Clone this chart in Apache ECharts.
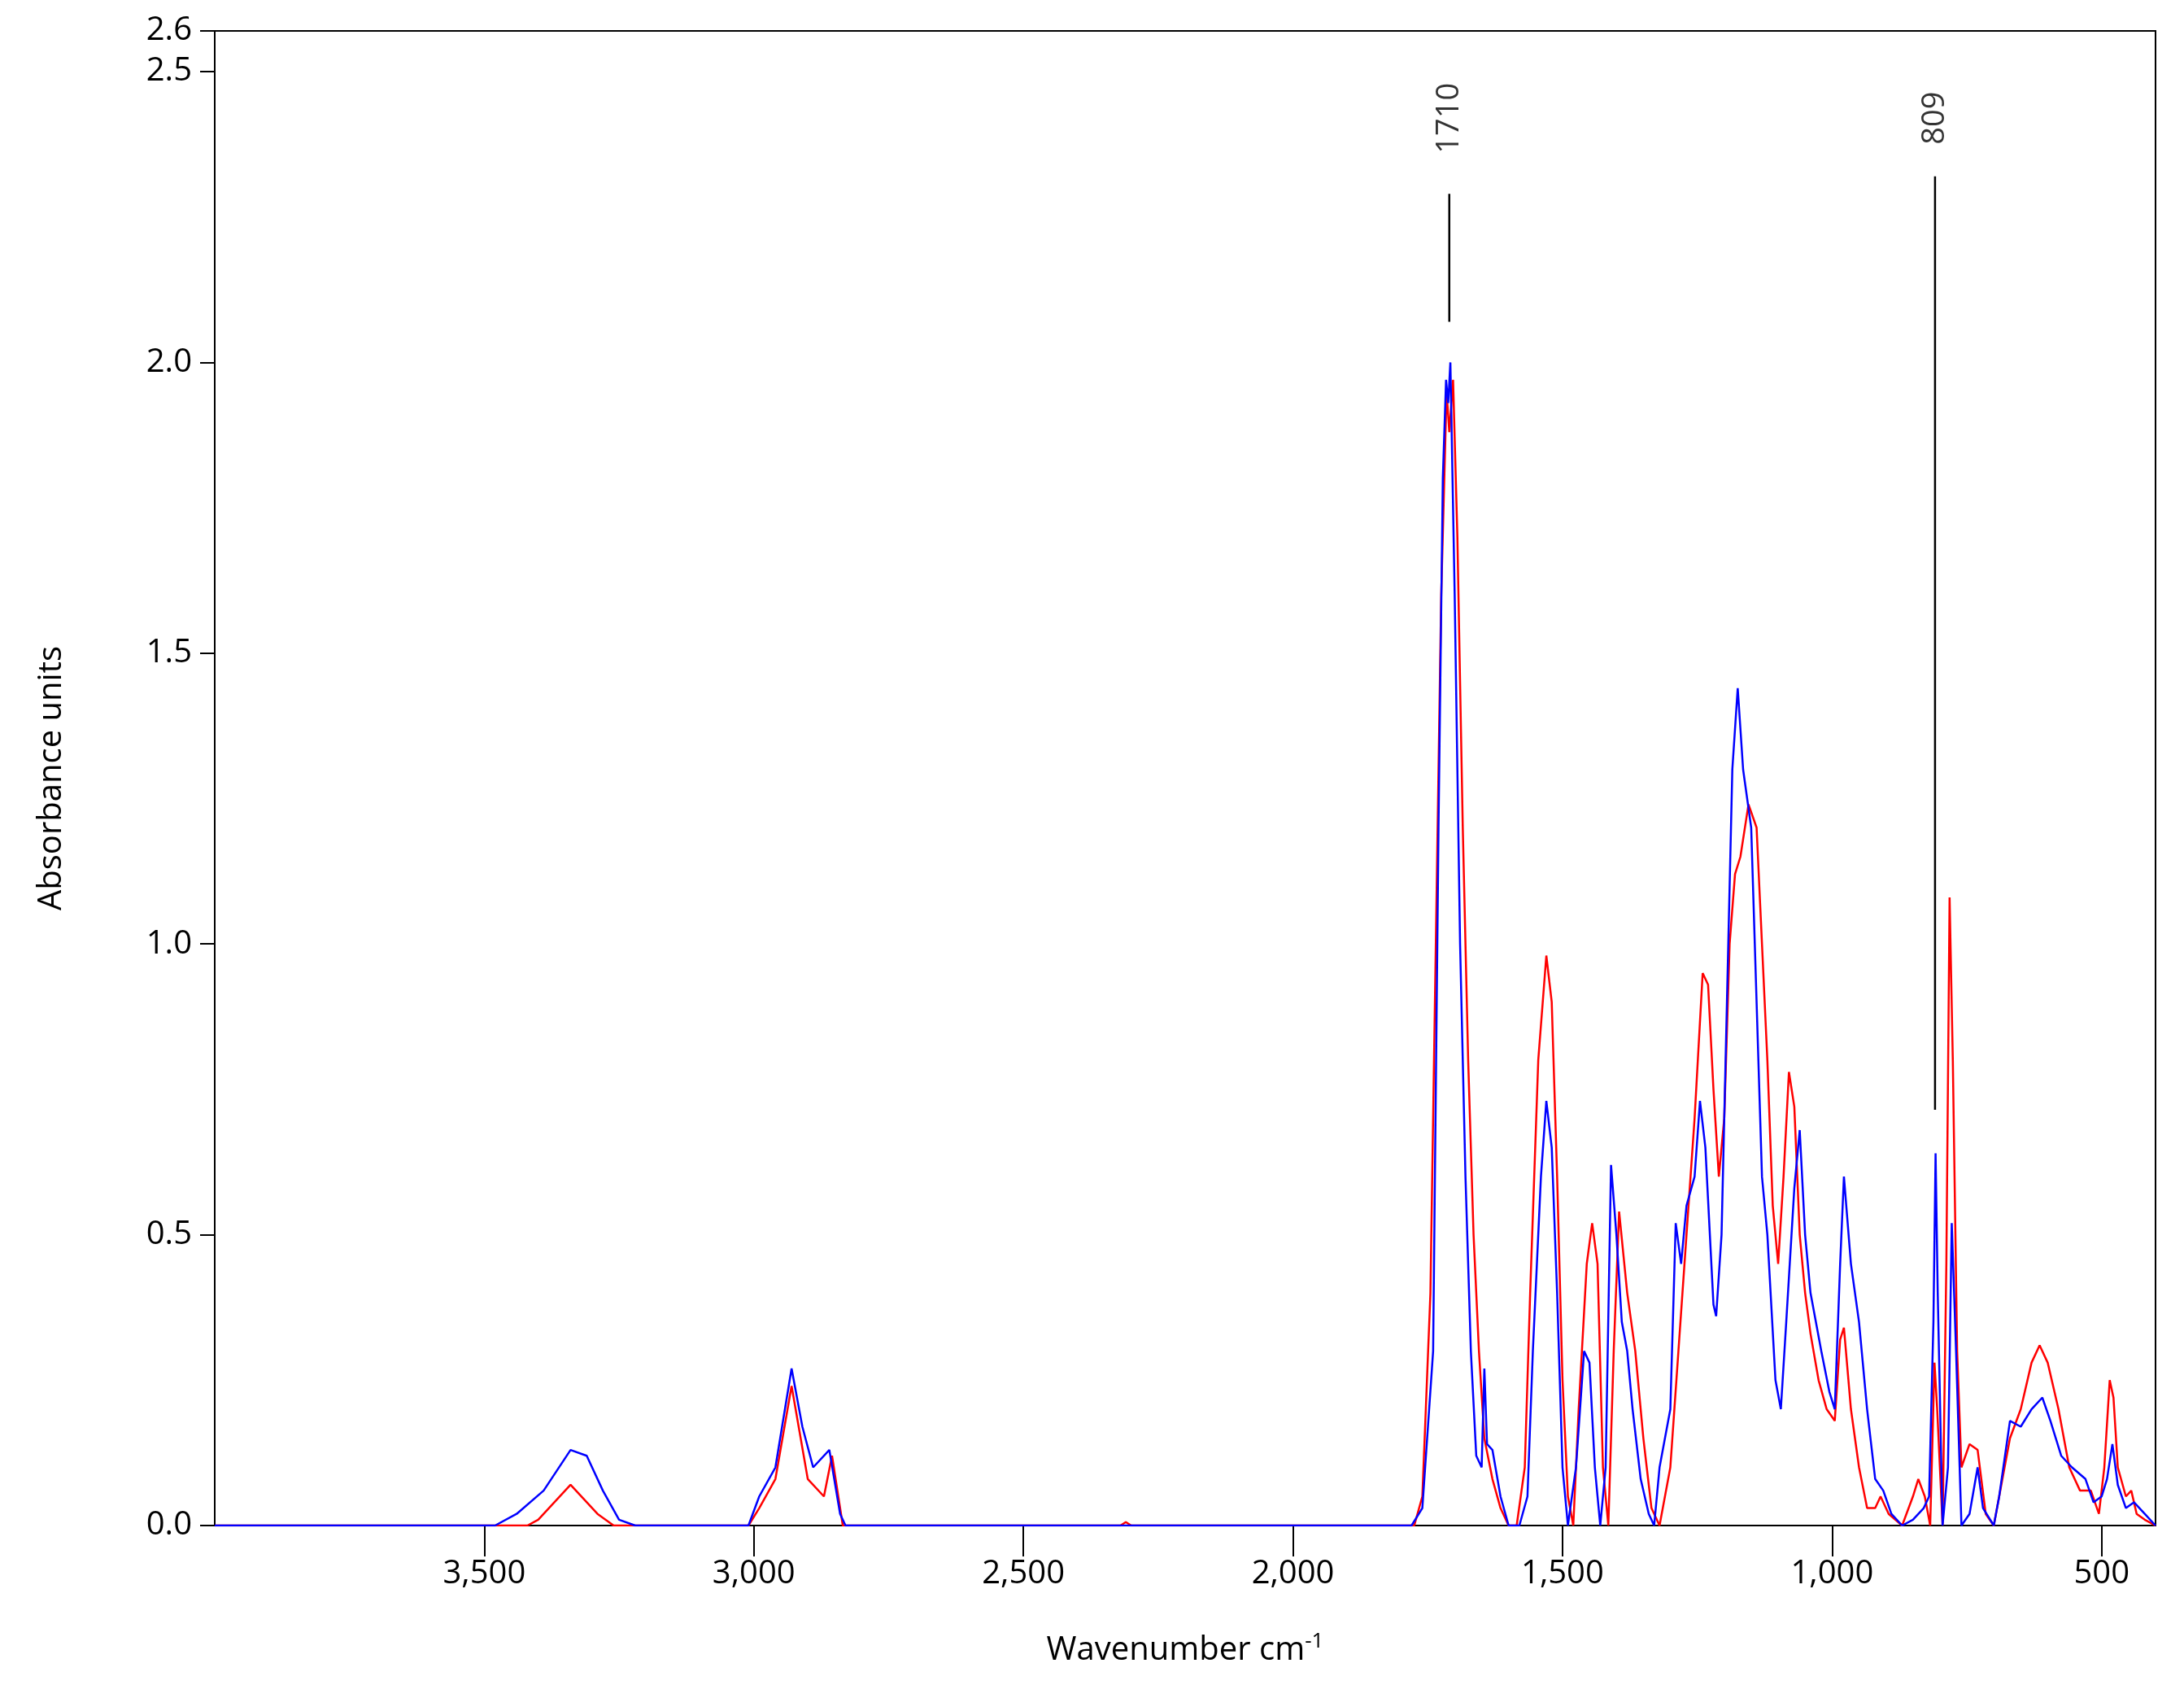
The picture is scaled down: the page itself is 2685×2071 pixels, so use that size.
<!DOCTYPE html>
<html>
<head>
<meta charset="utf-8">
<script src="https://cdn.jsdelivr.net/npm/echarts@6/dist/echarts.min.js"></script>
<style>html,body{margin:0;background:#fff}#chart{width:2685px;height:2071px}</style>
</head>
<body>
<div id="chart"></div>
<script>
// wavenumber / absorbance pairs
const blueWn = [4000,3480,3440,3390,3340,3310,3280,3250,3220,3010,2990,2960,2930,2910,2890,2860,2840,2830,1780,1760,1740,1730,1722,1716,1712,1708,1700,1690,1680,1670,1660,1650,1645,1640,1630,1615,1600,1580,1565,1555,1540,1530,1520,1510,1500,1490,1475,1460,1450,1440,1430,1420,1410,1400,1390,1380,1370,1355,1340,1330,1320,1300,1290,1280,1270,1255,1245,1235,1220,1215,1205,1195,1185,1175,1165,1150,1140,1130,1120,1105,1095,1085,1070,1060,1050,1040,1020,1005,995,985,978,965,950,935,920,905,890,870,850,830,820,812,808,804,795,785,778,770,760,745,730,720,700,690,670,650,630,610,595,575,555,530,515,500,490,480,470,455,440,420,400];
const blueAbs = [0,0,0.02,0.06,0.13,0.12,0.06,0.01,0,0,0.05,0.1,0.27,0.17,0.1,0.13,0.02,0,0,0.03,0.3,1.2,1.8,1.97,1.93,2.0,1.6,1.0,0.6,0.3,0.12,0.1,0.27,0.14,0.13,0.05,0,0,0.05,0.3,0.6,0.73,0.65,0.4,0.1,0,0.1,0.3,0.28,0.1,0,0.1,0.62,0.5,0.35,0.3,0.2,0.08,0.02,0,0.1,0.2,0.52,0.45,0.55,0.6,0.73,0.65,0.38,0.36,0.5,0.9,1.3,1.44,1.3,1.2,0.9,0.6,0.5,0.25,0.2,0.35,0.58,0.68,0.5,0.4,0.3,0.23,0.2,0.45,0.6,0.45,0.35,0.2,0.08,0.06,0.02,0,0.01,0.03,0.05,0.35,0.64,0.4,0,0.1,0.52,0.3,0,0.02,0.1,0.03,0,0.05,0.18,0.17,0.2,0.22,0.18,0.12,0.1,0.08,0.04,0.05,0.08,0.14,0.07,0.03,0.04,0.02,0];
const redWn = [4000,3420,3400,3340,3290,3260,3010,2990,2960,2930,2900,2870,2855,2835,2320,2310,2300,1775,1760,1745,1735,1725,1715,1710,1703,1695,1685,1675,1665,1655,1645,1630,1615,1600,1585,1570,1560,1545,1530,1520,1510,1500,1490,1480,1470,1455,1445,1435,1425,1415,1405,1395,1380,1365,1350,1335,1320,1300,1285,1270,1255,1240,1230,1220,1210,1200,1190,1180,1170,1155,1140,1130,1120,1110,1100,1090,1080,1070,1060,1050,1040,1025,1010,995,985,978,965,950,935,920,910,895,870,850,840,828,818,810,805,795,788,782,776,768,760,745,730,715,700,690,670,650,630,615,600,580,560,540,520,505,495,485,478,470,455,445,435,420,400];
const redAbs = [0,0,0.01,0.07,0.02,0,0,0.03,0.08,0.24,0.08,0.05,0.12,0,0,0.006,0,0,0.05,0.4,1.0,1.6,1.95,1.88,1.97,1.7,1.2,0.8,0.5,0.3,0.15,0.08,0.03,0,0,0.1,0.4,0.8,0.98,0.9,0.6,0.25,0.05,0,0.2,0.45,0.52,0.45,0.1,0,0.3,0.54,0.4,0.3,0.15,0.03,0,0.1,0.3,0.5,0.7,0.95,0.93,0.75,0.6,0.7,1.0,1.12,1.15,1.24,1.2,1.0,0.8,0.55,0.45,0.6,0.78,0.72,0.5,0.4,0.33,0.25,0.2,0.18,0.32,0.34,0.2,0.1,0.03,0.03,0.05,0.02,0,0.05,0.08,0.05,0,0.28,0.2,0,0.45,1.08,0.8,0.3,0.1,0.14,0.13,0.02,0,0.05,0.15,0.2,0.28,0.31,0.28,0.2,0.1,0.06,0.06,0.02,0.1,0.25,0.22,0.1,0.05,0.06,0.02,0.01,0];
const xTicks = [500,1000,1500,2000,2500,3000,3500];
const peakLabels = ['1710','809'];
const peakWn = [1710,809];
const peakLineLow = [2.07,0.715];
const peakLineHigh = [2.29,2.32];
const peakLabelY = [2.42,2.42];

const zip = (a, b) => a.map((v, i) => [v, b[i]]);
const font = 'Open Sans';
const series = [
  { type: 'line', data: zip(redWn, redAbs), showSymbol: false, lineStyle: { color: '#ff0000', width: 2.5 }, z: 2 },
  { type: 'line', data: zip(blueWn, blueAbs), showSymbol: false, lineStyle: { color: '#0000ff', width: 2.5 }, z: 3 }
];
peakWn.forEach((w, i) => {
  series.push({ type: 'line', data: [[w, peakLineLow[i]], [w, peakLineHigh[i]]], showSymbol: false,
    lineStyle: { color: '#000', width: 2.5 }, z: 4 });
});
series.push({
  type: 'scatter', symbolSize: 0, z: 5,
  data: peakWn.map((w, i) => ({ value: [w, peakLabelY[i]], name: peakLabels[i] })),
  label: { show: true, position: 'inside', rotate: 90, formatter: p => p.name, color: '#000', fontSize: 38, fontFamily: font }
});

const chart = echarts.init(document.getElementById('chart'));
chart.setOption({
  animation: false,
  backgroundColor: '#fff',
  grid: { left: 264, right: 35, top: 38, bottom: 196, show: true, borderColor: '#000', borderWidth: 2 },
  xAxis: {
    type: 'value', min: 400, max: 4000, inverse: true,
    name: 'Wavenumber cm{s|-1}', nameLocation: 'middle', nameGap: 130,
    nameTextStyle: { fontSize: 40, fontFamily: font, color: '#000', rich: { s: { fontSize: 26, verticalAlign: 'top', padding: [0, 0, 22, 0], fontFamily: font } } },
    axisLine: { onZero: false, lineStyle: { color: '#000', width: 2 } },
    axisTick: { length: 38, customValues: xTicks, lineStyle: { color: '#000', width: 2 } },
    axisLabel: { customValues: xTicks, fontSize: 40, fontFamily: font, color: '#000', margin: 40 },
    splitLine: { show: false }
  },
  yAxis: {
    type: 'value', min: 0, max: 2.57, interval: 0.5,
    name: 'Absorbance units', nameLocation: 'middle', nameGap: 180,
    nameTextStyle: { fontSize: 40, fontFamily: font, color: '#000' },
    axisLine: { show: true, lineStyle: { color: '#000', width: 2 } },
    axisTick: { show: true, length: 18, lineStyle: { color: '#000', width: 2 } },
    axisLabel: { fontSize: 40, fontFamily: font, color: '#000', margin: 28, formatter: v => v.toFixed(1) },
    splitLine: { show: false }
  },
  series: series
});
</script>
</body>
</html>
